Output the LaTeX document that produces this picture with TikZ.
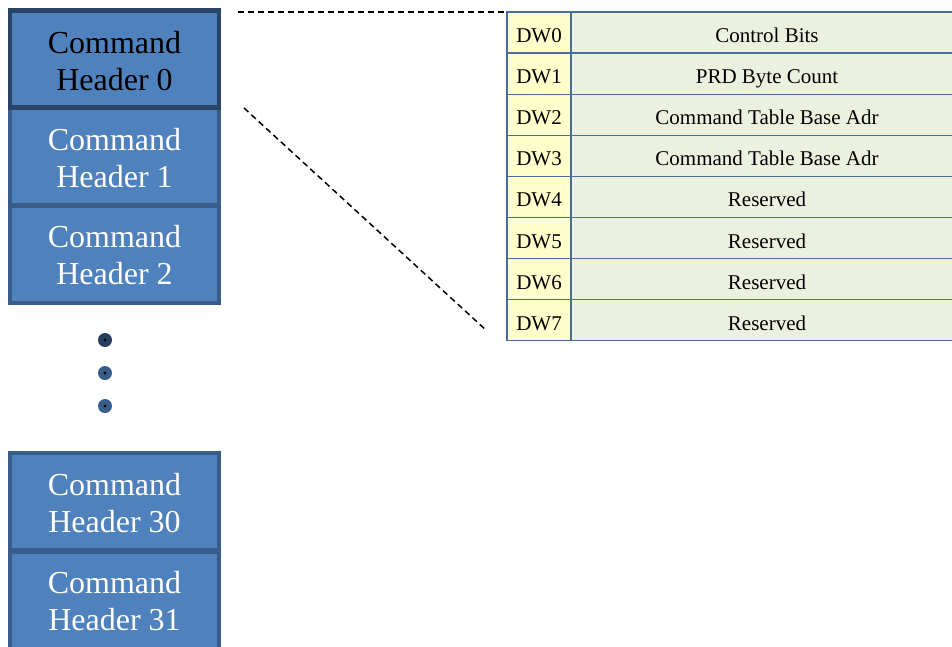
\documentclass[tikz,border=0pt]{standalone}
\usepackage{fontspec}
\setmainfont{Liberation Serif}
\definecolor{boxfill}{HTML}{4F81BD}
\definecolor{boxedge}{HTML}{385D8A}
\definecolor{boxedgedark}{HTML}{2A4468}
\definecolor{dwfill}{HTML}{FFFFCC}
\definecolor{descfill}{HTML}{EBF1DE}
\definecolor{tabedge}{HTML}{4A6C9B}
\definecolor{dotdark}{HTML}{243F60}
\definecolor{dotmid}{HTML}{385D8A}
\begin{document}
\begin{tikzpicture}[x=1pt,y=-1pt,
  hdr/.style={draw=boxedge, line width=4pt, fill=boxfill, minimum width=209pt, minimum height=97pt,
    inner sep=0pt},
  hdrsel/.style={hdr, draw=boxedgedark, line width=4.5pt},
  hdrtext/.style={inner sep=0pt, align=center, text=white, font=\fontsize{32}{37}\selectfont},
  hdrtextsel/.style={hdrtext, text=black},
  cellbase/.style={draw=tabedge, line width=1.3pt, minimum height=41.1pt,
    inner sep=0pt, text height=20pt, text depth=0pt, font=\fontsize{21}{24}\selectfont},
  dwcell/.style={cellbase, fill=dwfill, minimum width=64pt},
  desccell/.style={cellbase, fill=descfill, minimum width=392pt},
  moredot/.style={circle, fill=dotmid, minimum size=14pt, inner sep=0pt},
  zoomline/.style={dashed, dash pattern=on 6pt off 4pt, line width=1.5pt, black}
]
\clip (0,0) rectangle (952,646);
\fill[white] (0,0) rectangle (952,646);

% Command headers
\node[hdr] (h1) at (114.5,156.5) {};
\node[hdr] (h2) at (114.5,254) {};
\node[hdrsel] (h0) at (114.5,59) {};
\node[hdr] (h30) at (114.5,501) {};
\node[hdr] (h31) at (114.5,600) {};
\node[hdrtextsel] (t0) at ([yshift=-2pt]h0.center) {Command\\Header 0};
\node[hdrtext] (t1) at ([yshift=-2pt]h1.center) {Command\\Header 1};
\node[hdrtext] (t2) at ([yshift=-1.5pt]h2.center) {Command\\Header 2};
\node[hdrtext] (t30) at ([yshift=-2pt]h30.center) {Command\\Header 30};
\node[hdrtext] (t31) at ([yshift=-1.5pt]h31.center) {Command\\Header 31};

% ellipsis dots
\node[moredot, fill=dotdark] (d1) at (105,340) {};
\node[moredot] (d2) at (105,373) {};
\node[moredot] (d3) at (105,406) {};
\foreach \d in {d1,d2,d3} \fill[black] (\d.center) circle (1.6pt);

% table
\foreach \i/\t [count=\k from 0] in {0/Control Bits,1/PRD Byte Count,2/Command Table Base Adr,3/Command Table Base Adr,4/Reserved,5/Reserved,6/Reserved,7/Reserved}{
  \node[dwcell] (dw\i) at (539,12+20.55+41.1*\k) {DW\i};
  \node[desccell] (ds\i) at (767,12+20.55+41.1*\k) {\t};
}

% zoom lines
\coordinate (zt) at (238,12);
\coordinate (zb) at (244,108);
\coordinate (ze) at (487,331);
\draw[zoomline] (zt) -- (zt -| dw0.west);
\draw[zoomline] (zb) -- (ze);
\end{tikzpicture}
\end{document}
